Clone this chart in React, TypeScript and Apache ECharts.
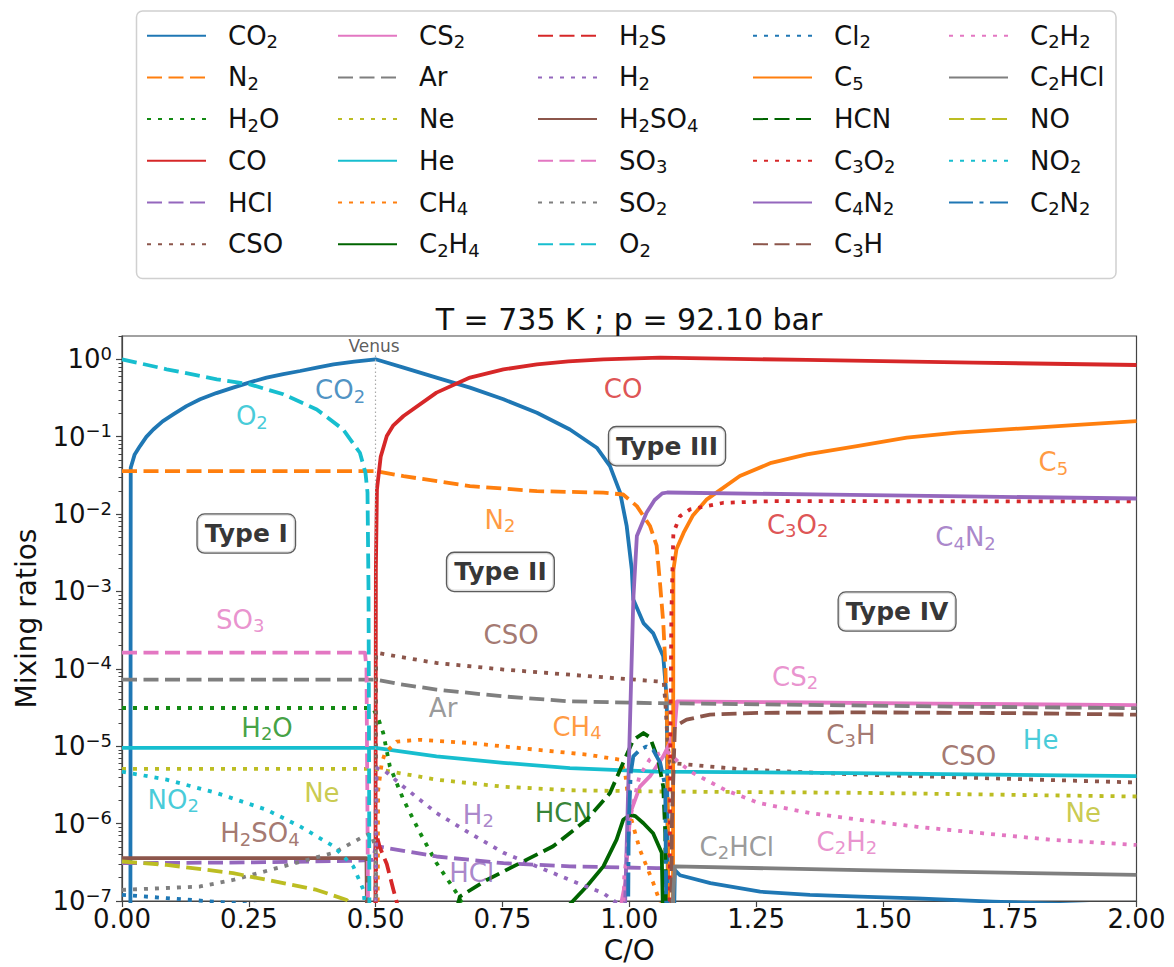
import { useEffect, useRef } from 'react';
import * as echarts from 'echarts';

// Equilibrium mixing ratios versus C/O at T = 735 K, p = 92.10 bar.
// Each series is a list of [C/O, mixing ratio] pairs.
const CO2 = [[0.0165, 1e-8], [0.0172, 0.0397], [0.025, 0.059], [0.0355, 0.0756], [0.048, 0.0994], [0.0617, 0.124], [0.08, 0.158], [0.101, 0.194], [0.127, 0.248], [0.154, 0.304], [0.186, 0.366], [0.219, 0.43], [0.252, 0.504], [0.285, 0.58], [0.318, 0.644], [0.351, 0.706], [0.384, 0.783], [0.417, 0.861], [0.458, 0.933], [0.5, 1.0], [0.555, 0.78], [0.62, 0.58], [0.686, 0.43], [0.752, 0.304], [0.818, 0.204], [0.883, 0.124], [0.936, 0.072], [0.962, 0.0417], [0.982, 0.0189], [0.995, 0.00697], [1.005, 0.00192], [1.008, 7.85e-4], [1.028, 3.9e-4], [1.047, 2.9e-4], [1.067, 1.45e-4], [1.074, 4e-5], [1.077, 1e-8], [1.086, 1e-8], [1.09, 2.5e-7], [1.1, 2.15e-7], [1.16, 1.7e-7], [1.258, 1.32e-7], [1.356, 1.2e-7], [1.455, 1.14e-7], [1.567, 1.08e-7], [1.717, 9.8e-8], [2.0, 8.5e-8]];
const N2 = [[0, 0.0359], [0.5, 0.0359], [0.555, 0.0309], [0.686, 0.023], [0.818, 0.0198], [0.949, 0.0189], [0.988, 0.0179], [1.015, 0.01265], [1.041, 0.007], [1.054, 0.0039], [1.061, 0.0012], [1.067, 4e-4], [1.071, 1.2e-4], [1.075, 1.6e-5], [1.078, 1e-8]];
const H2O = [[0, 3.12e-5], [0.49, 3.12e-5], [0.496, 3.0e-5], [0.505, 2.3e-5], [0.515, 1.48e-5], [0.528, 5.5e-6], [0.555, 2.03e-6], [0.588, 7.5e-7], [0.62, 3.1e-7], [0.66, 1.26e-7], [0.68, 7e-8]];
const CO = [[0.4995, 1e-8], [0.5005, 2e-3], [0.5026, 0.0208], [0.51, 0.055], [0.522, 0.102], [0.535, 0.14], [0.555, 0.185], [0.62, 0.371], [0.686, 0.58], [0.752, 0.74], [0.818, 0.861], [0.88, 0.94], [0.949, 1.0], [1.061, 1.05], [1.35, 0.98], [1.678, 0.906], [2.0, 0.844]];
const HCl = [[0, 3.08e-7], [0.25, 3.15e-7], [0.45, 3.3e-7], [0.495, 3.4e-7], [0.5, 5.06e-7], [0.51, 5.0e-7], [0.62, 3.76e-7], [0.752, 3.08e-7], [0.883, 2.8e-7], [1.054, 2.66e-7], [1.07, 2.65e-7], [1.074, 1e-8]];
const CSO = [[0.4995, 1e-8], [0.501, 1.62e-4], [0.55, 1.42e-4], [0.62, 1.19e-4], [0.752, 9.8e-5], [0.883, 8.4e-5], [1.054, 6.9e-5], [1.068, 6.8e-5], [1.072, 3e-5], [1.076, 1e-5], [1.08, 6.1e-6], [1.225, 5.0e-6], [1.455, 4.3e-6], [2.0, 3.4e-6]];
const CS2 = [[0.98, 1e-8], [0.985, 1e-7], [0.992, 1.7e-7], [1.002, 1.37e-6], [1.021, 3.0e-6], [1.041, 4.1e-6], [1.067, 7.4e-6], [1.08, 1.1e-5], [1.09, 1.8e-5], [1.094, 3.8e-5], [1.3, 3.7e-5], [1.6, 3.55e-5], [2.0, 3.4e-5]];
const Ar = [[0, 7.25e-5], [0.5, 7.25e-5], [0.55, 6.3e-5], [0.62, 5.4e-5], [0.752, 4.4e-5], [0.883, 3.8e-5], [1.054, 3.6e-5], [1.3, 3.45e-5], [1.65, 3.25e-5], [2.0, 3.1e-5]];
const Ne = [[0, 5.1e-6], [0.5, 5.1e-6], [0.62, 3.7e-6], [0.752, 3.0e-6], [0.883, 2.7e-6], [1.054, 2.6e-6], [1.455, 2.5e-6], [2.0, 2.24e-6]];
const He = [[0, 9.5e-6], [0.5, 9.5e-6], [0.62, 7.4e-6], [0.752, 6.1e-6], [0.883, 5.2e-6], [1.054, 4.7e-6], [1.435, 4.5e-6], [2.0, 4.1e-6]];
const CH4 = [[0.5035, 1e-8], [0.505, 2.7e-6], [0.512, 6e-6], [0.5185, 8.2e-6], [0.5416, 1.15e-5], [0.5875, 1.21e-5], [0.686, 1.1e-5], [0.818, 9.0e-6], [0.916, 7.8e-6], [0.982, 6.7e-6], [0.992, 4.5e-6], [1.0016, 1.3e-6], [1.021, 4.6e-7], [1.0475, 1.7e-7], [1.065, 8e-8]];
const C2H4 = [[0.875, 8e-8], [0.916, 1.54e-7], [0.949, 2.8e-7], [0.975, 6.2e-7], [0.988, 1.12e-6], [1.002, 1.3e-6], [1.012, 1.25e-6], [1.028, 1.01e-6], [1.047, 7.5e-7], [1.064, 4.2e-7], [1.066, 1e-7], [1.067, 1e-8]];
const H2S = [[0.4995, 1e-8], [0.501, 7.5e-7], [0.508, 5e-7], [0.522, 3e-7], [0.535, 1.4e-7], [0.545, 8e-8]];
const H2 = [[0.4995, 1e-8], [0.502, 5.2e-6], [0.515, 5.0e-6], [0.555, 3.0e-6], [0.62, 1.37e-6], [0.686, 7.5e-7], [0.752, 4.2e-7], [0.818, 2.8e-7], [0.883, 1.87e-7], [0.949, 1.26e-7], [0.98, 9e-8]];
const H2SO4 = [[0, 3.58e-7], [0.482, 3.58e-7], [0.484, 1e-8]];
const SO3 = [[0, 1.62e-4], [0.479, 1.62e-4], [0.482, 1e-4], [0.484, 1e-6], [0.486, 1e-8]];
const SO2 = [[0, 1.39e-7], [0.154, 1.54e-7], [0.219, 1.87e-7], [0.318, 2.8e-7], [0.417, 4.2e-7], [0.476, 6.8e-7], [0.49, 7.5e-7], [0.5, 5e-7], [0.503, 1e-8]];
const O2 = [[0, 1.0], [0.088, 0.743], [0.187, 0.551], [0.252, 0.475], [0.318, 0.353], [0.384, 0.225], [0.436, 0.124], [0.469, 0.062], [0.48, 0.0342], [0.484, 0.0189], [0.486, 1e-3], [0.487, 1e-5], [0.488, 1e-8]];
const Cl2 = [[0, 1.2e-7], [0.088, 1.09e-7], [0.2, 9.6e-8], [0.3, 8.6e-8]];
const C5 = [[1.086, 1e-8], [1.087, 1.9e-3], [1.093, 3.5e-3], [1.107, 5.7e-3], [1.125, 9.5e-3], [1.153, 0.0155], [1.218, 0.031], [1.28, 0.046], [1.35, 0.059], [1.449, 0.0756], [1.547, 0.097], [1.646, 0.113], [1.744, 0.124], [1.876, 0.141], [2.0, 0.159]];
const HCN = [[0.66, 8e-8], [0.666, 1.14e-7], [0.719, 1.87e-7], [0.785, 3.1e-7], [0.85, 5.1e-7], [0.916, 1.12e-6], [0.962, 2.48e-6], [0.988, 6.1e-6], [1.008, 1.21e-5], [1.028, 1.48e-5], [1.041, 1.3e-5], [1.057, 6.7e-6], [1.067, 3.0e-6], [1.071, 7.5e-7], [1.073, 1e-8]];
const C3O2 = [[1.079, 1e-8], [1.081, 1e-5], [1.083, 5e-4], [1.087, 5.7e-3], [1.1, 9.4e-3], [1.12, 0.0115], [1.186, 0.014], [1.284, 0.0147], [2.0, 0.01455]];
const C4N2 = [[0.991, 1e-8], [0.992, 1e-7], [1.0, 9e-6], [1.008, 7.9e-4], [1.015, 5.2e-3], [1.034, 0.0104], [1.05, 0.0152], [1.065, 0.0185], [1.075, 0.019], [1.4, 0.0178], [1.7, 0.0168], [2.0, 0.0159]];
const C3H = [[1.082, 1e-8], [1.084, 1e-6], [1.09, 1.8e-5], [1.113, 2.2e-5], [1.159, 2.56e-5], [1.258, 2.7e-5], [1.455, 2.74e-5], [1.75, 2.68e-5], [2.0, 2.56e-5]];
const C2H2 = [[0.985, 1e-8], [0.99, 2e-7], [1.0, 8e-7], [1.002, 1.2e-6], [1.02, 4.1e-6], [1.04, 6.7e-6], [1.06, 8.1e-6], [1.075, 8.5e-6], [1.1, 6e-6], [1.126, 4.5e-6], [1.19, 2.7e-6], [1.255, 1.85e-6], [1.356, 1.37e-6], [1.455, 1.12e-6], [1.567, 9.1e-7], [1.698, 7.5e-7], [1.83, 6.2e-7], [2.0, 5.3e-7]];
const C2HCl = [[1.083, 1e-8], [1.086, 1e-7], [1.09, 2.8e-7], [1.455, 2.5e-7], [2.0, 2.18e-7]];
const NO = [[0, 3.24e-7], [0.088, 2.93e-7], [0.219, 2.29e-7], [0.318, 1.7e-7], [0.384, 1.39e-7], [0.443, 1.03e-7], [0.46, 8e-8]];
const NO2 = [[0, 4.7e-6], [0.088, 3.7e-6], [0.187, 2.48e-6], [0.285, 1.51e-6], [0.351, 9.2e-7], [0.417, 5.1e-7], [0.456, 2.8e-7], [0.476, 1.39e-7], [0.482, 5e-8]];
const C2N2 = [[0.997, 1e-8], [0.999, 1e-6], [1.003, 4.5e-6], [1.008, 7.4e-6], [1.021, 9.0e-6], [1.034, 9.9e-6], [1.047, 9.0e-6], [1.061, 6.1e-6], [1.071, 3.0e-6], [1.074, 1e-8]];

// Axis ticks
const X_TICK_STEP = 0.25;
const Y_MAJOR = [1e-7, 1e-6, 1e-5, 1e-4, 1e-3, 1e-2, 1e-1, 1];
const Y_MINOR: number[] = [];
for (let e = -7; e <= 0; e++) for (let m = 2; m <= 9; m++) { const v = m * Math.pow(10, e); if (v <= 2) Y_MINOR.push(v); }

const VENUS_CO = 0.5;

// Colours
const BLUE = '#1f77b4', ORANGE = '#ff7f0e', GREEN = '#138a13', DKGREEN = '#006400', RED = '#d62728',
  PURPLE = '#9467bd', BROWN = '#8c564b', PINK = '#e377c2', GRAY = '#7f7f7f', OLIVE = '#bcbd22', CYAN = '#17becf';

const DASH: Record<string, any> = {
  solid: 'solid',
  dashed: [15, 6.5],
  dotted: [4, 7],
  dashdot: [24, 6.5, 4, 6.5],
};

// name, values, colour, line kind
const SPECIES: [string, number[][], string, string][] = [
  ['CO2', CO2, BLUE, 'solid'],
  ['N2', N2, ORANGE, 'dashed'],
  ['H2O', H2O, GREEN, 'dotted'],
  ['CO', CO, RED, 'solid'],
  ['HCl', HCl, PURPLE, 'dashed'],
  ['CSO', CSO, BROWN, 'dotted'],
  ['CS2', CS2, PINK, 'solid'],
  ['Ar', Ar, GRAY, 'dashed'],
  ['Ne', Ne, OLIVE, 'dotted'],
  ['He', He, CYAN, 'solid'],
  ['CH4', CH4, ORANGE, 'dotted'],
  ['C2H4', C2H4, DKGREEN, 'solid'],
  ['H2S', H2S, RED, 'dashed'],
  ['H2', H2, PURPLE, 'dotted'],
  ['H2SO4', H2SO4, BROWN, 'solid'],
  ['SO3', SO3, PINK, 'dashed'],
  ['SO2', SO2, GRAY, 'dotted'],
  ['O2', O2, CYAN, 'dashed'],
  ['Cl2', Cl2, BLUE, 'dotted'],
  ['C5', C5, ORANGE, 'solid'],
  ['HCN', HCN, DKGREEN, 'dashed'],
  ['C3O2', C3O2, RED, 'dotted'],
  ['C4N2', C4N2, PURPLE, 'solid'],
  ['C3H', C3H, BROWN, 'dashed'],
  ['C2H2', C2H2, PINK, 'dotted'],
  ['C2HCl', C2HCl, GRAY, 'solid'],
  ['NO', NO, OLIVE, 'dashed'],
  ['NO2', NO2, CYAN, 'dotted'],
  ['C2N2', C2N2, BLUE, 'dashdot'],
];

const LEGEND_COLUMNS = [
  ['CO2', 'N2', 'H2O', 'CO', 'HCl', 'CSO'],
  ['CS2', 'Ar', 'Ne', 'He', 'CH4', 'C2H4'],
  ['H2S', 'H2', 'H2SO4', 'SO3', 'SO2', 'O2'],
  ['Cl2', 'C5', 'HCN', 'C3O2', 'C4N2', 'C3H'],
  ['C2H2', 'C2HCl', 'NO', 'NO2', 'C2N2'],
];
const LEGEND_LEFT = [146, 337, 537, 752, 948];

// In-plot species labels: text, C/O, mixing ratio, colour
const SPECIES_LABELS: [string, number, number, string][] = [
  ['CO2', 0.43, 0.397, BLUE],
  ['O2', 0.256, 0.183, CYAN],
  ['CO', 0.988, 0.409, RED],
  ['N2', 0.745, 0.0085, ORANGE],
  ['C5', 1.836, 0.0465, ORANGE],
  ['C3O2', 1.332, 0.0073, RED],
  ['C4N2', 1.663, 0.00498, PURPLE],
  ['SO3', 0.233, 4.3e-4, PINK],
  ['CSO', 0.767, 2.77e-4, BROWN],
  ['Ar', 0.633, 3.1e-5, GRAY],
  ['CH4', 0.897, 1.79e-5, ORANGE],
  ['H2O', 0.286, 1.73e-5, GREEN],
  ['CS2', 1.327, 7.9e-5, PINK],
  ['C3H', 1.437, 1.41e-5, BROWN],
  ['CSO', 1.669, 7.4e-6, BROWN],
  ['He', 1.811, 1.21e-5, CYAN],
  ['Ne', 1.895, 1.37e-6, OLIVE],
  ['NO2', 0.101, 2.03e-6, CYAN],
  ['Ne', 0.394, 2.48e-6, OLIVE],
  ['H2', 0.7025, 1.3e-6, PURPLE],
  ['HCN', 0.87, 1.37e-6, DKGREEN],
  ['H2SO4', 0.272, 7.5e-7, BROWN],
  ['HCl', 0.6895, 2.29e-7, PURPLE],
  ['C2HCl', 1.212, 5.06e-7, GRAY],
  ['C2H2', 1.429, 5.8e-7, PINK],
];

// Regime boxes: text, C/O, mixing ratio
const REGIME_LABELS: [string, number, number][] = [
  ['Type I', 0.245, 5.6e-3],
  ['Type II', 0.746, 1.79e-3],
  ['Type III', 1.0745, 0.0755],
  ['Type IV', 1.528, 5.5e-4],
];

const FONT = 'DejaVu Sans';
const TEXT = '#111';

const sub = (s: string) => s.replace(/(\d+)/g, '{s|$1}');
const subStyle = (color: string) => ({ fontSize: 18, lineHeight: 22, verticalAlign: 'bottom', fontFamily: FONT, color });

function buildOption() {
  const lineSeries = SPECIES.map(([name, data, color, kind]) => ({
    type: 'line',
    name,
    data,
    showSymbol: false,
    symbol: 'none',
    silent: true,
    z: 2,
    lineStyle: { color, width: 3.8, type: DASH[kind], cap: 'butt', join: 'round' },
    itemStyle: { color },
    emphasis: { disabled: true },
  }));

  const labelData: any[] = SPECIES_LABELS.map(([text, x, y, color]) => ({
    value: [x, y],
    label: {
      formatter: sub(text),
      color,
      fontSize: 26,
      lineHeight: 30,
      rich: { s: subStyle(color) },
    },
  }));
  REGIME_LABELS.forEach(([text, x, y]) => {
    labelData.push({
      value: [x, y],
      label: {
        formatter: text,
        color: '#000',
        fontSize: 25,
        fontWeight: 'bold',
        lineHeight: 30,
        backgroundColor: '#fff',
        borderColor: '#333',
        borderWidth: 1.3,
        borderRadius: 7,
        padding: [4, 7, 4, 7],
      },
    });
  });
  labelData.push({
    value: [0.497, 1.47],
    label: { formatter: 'Venus', color: '#333', fontSize: 17, lineHeight: 20 },
  });

  const annotationSeries = {
    type: 'scatter',
    name: 'annotations',
    silent: true,
    z: 6,
    symbolSize: 1,
    itemStyle: { color: 'transparent' },
    label: { show: true, position: 'inside', fontFamily: FONT },
    data: labelData,
    markLine: {
      silent: true,
      symbol: ['none', 'none'],
      label: { show: false },
      lineStyle: { color: '#aaa', width: 1.2, type: [1.5, 2.5] },
      data: [[{ coord: [VENUS_CO, 1e-7] }, { coord: [VENUS_CO, 1.2] }]],
    },
  };

  return {
    animation: false,
    backgroundColor: '#fff',
    textStyle: { fontFamily: FONT },
    title: {
      text: 'T = 735 K ; p = 92.10 bar',
      left: 629,
      top: 302,
      textAlign: 'center',
      padding: 0,
      textStyle: { fontSize: 30, fontWeight: 'normal', color: TEXT, fontFamily: FONT, lineHeight: 34 },
    },
    graphic: [
      {
        type: 'rect',
        z: 0,
        silent: true,
        shape: { x: 136.5, y: 11, width: 979.5, height: 267.5, r: 6 },
        style: { fill: '#fff', stroke: '#d0d0d0', lineWidth: 1.5 },
      },
    ],
    legend: LEGEND_COLUMNS.map((col, i) => ({
      data: col,
      orient: 'vertical',
      left: LEGEND_LEFT[i] - 5,
      top: 15.7,
      itemWidth: 59,
      itemHeight: 14,
      itemGap: 11.7,
      selectedMode: false,
      itemStyle: { opacity: 0 },
      formatter: (name: string) => sub(name),
      textStyle: {
        fontSize: 26,
        lineHeight: 30,
        color: TEXT,
        fontFamily: FONT,
        padding: [0, 0, 0, 17],
        rich: { s: subStyle(TEXT) },
      },
    })),
    grid: { left: 122, right: 37.5, top: 336, bottom: 66, show: true, borderColor: '#444', borderWidth: 1.2, outerBoundsMode: 'none' },
    xAxis: {
      type: 'value',
      min: 0,
      max: 2,
      interval: X_TICK_STEP,
      name: 'C/O',
      nameLocation: 'middle',
      nameGap: 30,
      nameTextStyle: { fontSize: 28, color: TEXT, fontFamily: FONT },
      axisLine: { show: true, lineStyle: { color: '#444', width: 1.2 } },
      axisTick: { show: true, length: 6, lineStyle: { color: '#444', width: 1.2 } },
      axisLabel: { formatter: (v: number) => v.toFixed(2), fontSize: 26, color: TEXT, margin: 5, fontFamily: FONT },
      splitLine: { show: false },
    },
    yAxis: [
      {
        type: 'log',
        logBase: 10,
        min: 1e-7,
        max: 2,
        name: 'Mixing ratios',
        nameLocation: 'middle',
        nameGap: 82,
        nameTextStyle: { fontSize: 28, color: TEXT, fontFamily: FONT },
        axisLine: { show: true, lineStyle: { color: '#444', width: 1.2 } },
        axisTick: { show: true, length: 6, lineStyle: { color: '#444', width: 1.2 }, customValues: Y_MAJOR },
        axisLabel: {
          customValues: Y_MAJOR,
          margin: 10,
          fontSize: 26,
          lineHeight: 30,
          color: TEXT,
          fontFamily: FONT,
          formatter: (v: number) => {
            const e = Math.round(Math.log10(v));
            return '10{p|' + (e < 0 ? '\u2212' : '') + Math.abs(e) + '}';
          },
          rich: { p: { fontSize: 18, lineHeight: 18, verticalAlign: 'top', color: TEXT, fontFamily: FONT } },
        },
        splitLine: { show: false },
      },
      {
        type: 'log',
        logBase: 10,
        min: 1e-7,
        max: 2,
        position: 'left',
        axisLine: { show: false },
        axisLabel: { show: false },
        splitLine: { show: false },
        axisTick: { show: true, length: 3.5, lineStyle: { color: '#444', width: 1 }, customValues: Y_MINOR },
      },
    ],
    series: [...lineSeries, annotationSeries],
  };
}

export default function App() {
  const ref = useRef<HTMLDivElement>(null);
  useEffect(() => {
    const chart = echarts.init(ref.current!, null, { renderer: 'svg' });
    chart.setOption(buildOption() as any);
    return () => chart.dispose();
  }, []);
  return (
    <div
      ref={ref}
      style={{ position: 'absolute', left: 0, top: 0, width: 1174, height: 967, background: '#fff' }}
    />
  );
}
